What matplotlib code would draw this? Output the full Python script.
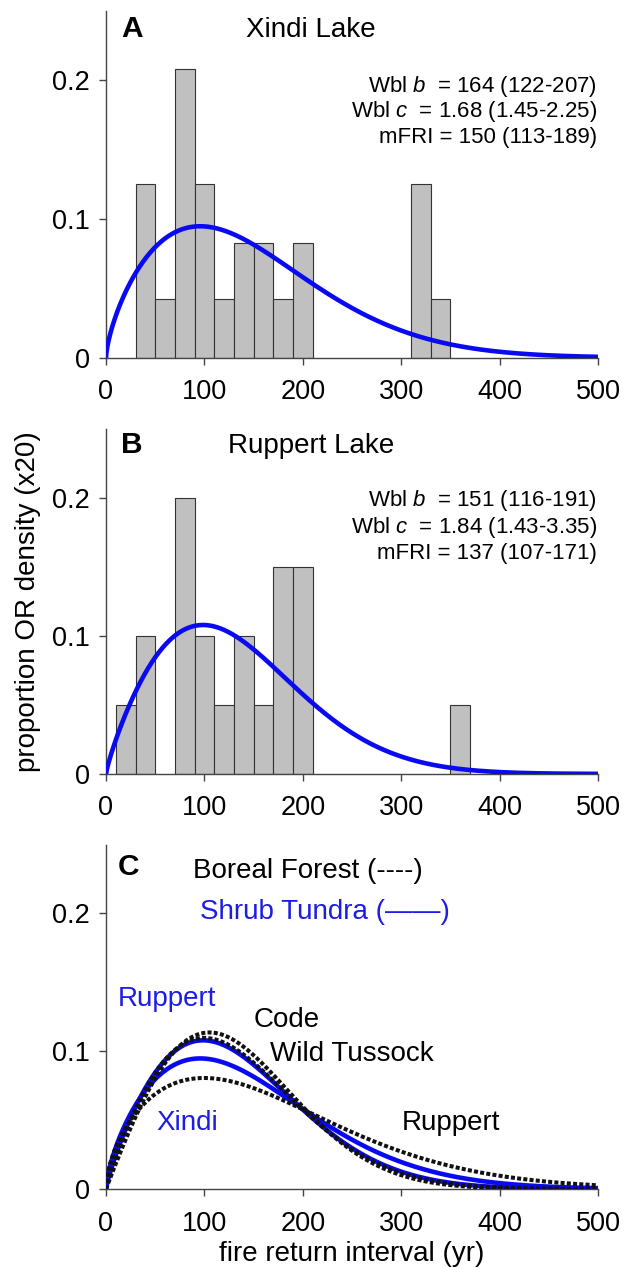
import numpy as np
import matplotlib
matplotlib.use('Agg')
import matplotlib.pyplot as plt

plt.rcParams['font.family'] = ['Liberation Sans', 'DejaVu Sans']
plt.rcParams['mathtext.fontset'] = 'custom'
plt.rcParams['mathtext.rm'] = 'Liberation Sans'
plt.rcParams['mathtext.it'] = 'Liberation Sans:italic'

# ---------------- data ----------------
bin_width = 20
xindi_bin_starts = [30, 50, 70, 90, 110, 130, 150, 170, 190, 310, 330]
xindi_props = [0.125, 0.042, 0.208, 0.125, 0.042, 0.083, 0.083, 0.042, 0.083, 0.125, 0.042]
ruppert_bin_starts = [10, 30, 70, 90, 110, 130, 150, 170, 190, 350]
ruppert_props = [0.05, 0.10, 0.20, 0.10, 0.05, 0.10, 0.05, 0.15, 0.15, 0.05]

# Weibull fits (scale b, shape c)
xindi_b, xindi_c = 164, 1.68
ruppert_b, ruppert_c = 151, 1.84
xindi_stats = ["Wbl $b$  = 164 (122-207)", "Wbl $c$  = 1.68 (1.45-2.25)", "mFRI = 150 (113-189)"]
ruppert_stats = ["Wbl $b$  = 151 (116-191)", "Wbl $c$  = 1.84 (1.43-3.35)", "mFRI = 137 (107-171)"]

# Panel C: boreal forest sites (dotted) and shrub tundra sites (solid)
boreal_sites = ["Code", "Wild Tussock", "Ruppert"]
boreal_b = [150, 150, 188]
boreal_c = [1.98, 1.87, 1.58]
tundra_sites = ["Ruppert", "Xindi"]
tundra_b = [151, 164]
tundra_c = [1.84, 1.68]

x_ticks = [0, 100, 200, 300, 400, 500]
y_ticks = [0, 0.1, 0.2]
y_ticklabels = ["0", "0.1", "0.2"]

BLUE = '#0a0af2'
TBLUE = '#1c1ce6'
SPINE = '#444444'


def weibull_x20(x, b, c):
    return 20 * (c / b) * (x / b) ** (c - 1) * np.exp(-(x / b) ** c)


xs = np.linspace(0, 500, 1001)

fig = plt.figure(figsize=(6.42, 12.69), dpi=100)
L, W = 0.1651, 0.7664
axA = fig.add_axes([L, 0.7181, W, 0.2733])
axB = fig.add_axes([L, 0.3901, W, 0.2719])
axC = fig.add_axes([L, 0.0630, W, 0.2715])


def style(ax):
    ax.set_xlim(0, 500)
    ax.set_ylim(0, 0.25)
    for s in ['top', 'right']:
        ax.spines[s].set_visible(False)
    for s in ['left', 'bottom']:
        ax.spines[s].set_color(SPINE)
        ax.spines[s].set_linewidth(1.0)
    ax.set_xticks(x_ticks)
    ax.set_xticklabels([str(t) for t in x_ticks])
    ax.set_yticks(y_ticks)
    ax.set_yticklabels(y_ticklabels)
    ax.tick_params(direction='out', length=5, width=1.0, color=SPINE, labelsize=19.5)
    ax.tick_params(axis='x', pad=10.5)
    ax.tick_params(axis='y', pad=6.5)


# Panel A
style(axA)
axA.bar(xindi_bin_starts, xindi_props, width=bin_width, align='edge',
        color='#c0c0c0', edgecolor='#333333', linewidth=0.8, zorder=2)
axA.plot(xs, weibull_x20(xs, xindi_b, xindi_c), color=BLUE, lw=3.3, zorder=3,
         solid_capstyle='butt')
axA.text(26.5, 0.231, "A", fontsize=21.5, fontweight='bold', ha='center', va='baseline')
axA.text(208, 0.231, "Xindi Lake", fontsize=20, ha='center', va='baseline')
for txt, yy in zip(xindi_stats, [0.1918, 0.1733, 0.1546]):
    axA.text(499, yy, txt, fontsize=16, ha='right', va='baseline')

# Panel B
style(axB)
axB.bar(ruppert_bin_starts, ruppert_props, width=bin_width, align='edge',
        color='#c0c0c0', edgecolor='#333333', linewidth=0.8, zorder=2)
axB.plot(xs, weibull_x20(xs, ruppert_b, ruppert_c), color=BLUE, lw=3.3, zorder=3,
         solid_capstyle='butt')
axB.text(26.0, 0.2324, "B", fontsize=21.5, fontweight='bold', ha='center', va='baseline')
axB.text(208.5, 0.2324, "Ruppert Lake", fontsize=20, ha='center', va='baseline')
for txt, yy in zip(ruppert_stats, [0.1942, 0.1749, 0.1556]):
    axB.text(499, yy, txt, fontsize=16, ha='right', va='baseline')
axB.set_ylabel("proportion OR density (x20)", fontsize=20, labelpad=8)

# Panel C
style(axC)
for b, c in zip(tundra_b, tundra_c):
    axC.plot(xs, weibull_x20(xs, b, c), color=BLUE, lw=3.3, zorder=3)
for b, c in zip(boreal_b, boreal_c):
    axC.plot(xs, weibull_x20(xs, b, c), color='#111111', lw=2.9, zorder=4,
             linestyle=(0, (1.0, 0.55)), dash_capstyle='butt')

axC.text(22.5, 0.2279, "C", fontsize=21.5, fontweight='bold', ha='center', va='baseline')
axC.text(88, 0.2255, "Boreal Forest (----)", fontsize=20, ha='left', va='baseline', color='black')
axC.text(95.5, 0.1959, "Shrub Tundra (\u2014\u2014)", fontsize=20, ha='left', va='baseline', color=TBLUE)
axC.text(11.5, 0.133, tundra_sites[0], fontsize=20, ha='left', va='baseline', color=TBLUE)
axC.text(150.4, 0.1178, boreal_sites[0], fontsize=20, ha='left', va='baseline', color='black')
axC.text(166.7, 0.0931, boreal_sites[1], fontsize=20, ha='left', va='baseline', color='black')
axC.text(50.8, 0.0428, tundra_sites[1], fontsize=20, ha='left', va='baseline', color=TBLUE)
axC.text(300.5, 0.0428, boreal_sites[2], fontsize=20, ha='left', va='baseline', color='black')
axC.text(250, -0.052, "fire return interval (yr)", fontsize=20, ha='center', va='baseline',
         clip_on=False)

fig.savefig('out.png', dpi=100)
